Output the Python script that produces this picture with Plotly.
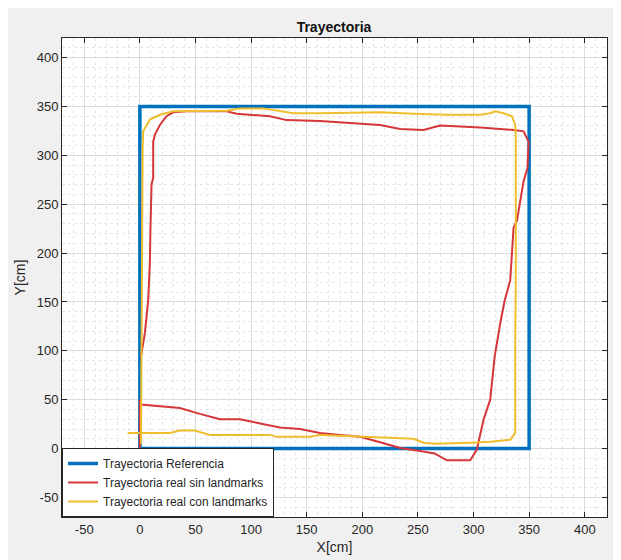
import plotly.graph_objects as go

# Reference trajectory (square)
ref_x = [0, 0, 350, 350, 0]
ref_y = [0, 350, 350, 0, 0]

# Real trajectory without landmarks
red_x = [0, 0, 1, 18, 36, 54, 72, 90, 108, 126, 144, 162, 180, 198, 216, 234, 252, 265, 276, 297,
         303, 309, 315, 319, 324, 328, 333, 336, 339, 345, 348.5, 349.5, 345, 336, 306, 270, 255,
         234, 216, 190, 162, 132, 117, 87, 78, 42, 30, 24, 18, 13.5, 12, 12, 10.5, 9.5, 9, 7.5, 4.5, 1]
red_y = [0, 50, 45, 43.5, 41.5, 35.5, 30, 30, 26, 21.5, 20, 16, 14, 12, 6.5, 0.5, -2.5, -5, -12, -12,
         -1, 29.5, 50, 94, 128, 151.5, 172, 226, 233, 273.5, 287, 314, 324.5, 326, 328.5, 330.5, 326,
         327, 331, 333, 335, 336, 340, 342.5, 345, 345, 344, 340, 331, 321, 314, 277, 270, 223, 190,
         151.5, 118, 94]

# Real trajectory with landmarks
yel_x = [-11, 27, 36, 49.5, 63, 117, 123, 153, 162, 216, 246, 255, 265, 297, 315, 333, 337.5, 337.5,
         338, 338, 337.5, 334.5, 327, 319.5, 315, 306, 276, 246, 216, 162, 138, 111, 90, 78, 30, 18,
         9, 3, 2.5, 2, 1.5, 1]
yel_y = [16, 16, 18.5, 18.5, 14, 14, 12, 12, 14, 11, 10, 6, 5, 6, 7, 9, 16, 104, 172, 318, 331, 340,
         343, 345, 343, 341.5, 341.5, 342.5, 344, 343, 343, 348, 348, 345.5, 345, 341.5, 336.5, 324.5,
         307.5, 200, 100, 5]

tick_vals = [-50, 0, 50, 100, 150, 200, 250, 300, 350, 400]
tick_text = [str(v) for v in tick_vals]

FONT = "Liberation Sans, Arial, sans-serif"
AX = "#262626"

fig = go.Figure()
fig.add_trace(go.Scatter(x=ref_x, y=ref_y, mode="lines", name="Trayectoria Referencia",
                         line=dict(color="#0072BD", width=3.5)))
fig.add_trace(go.Scatter(x=red_x, y=red_y, mode="lines", name="Trayectoria real sin landmarks",
                         line=dict(color="#D6363A", width=2)))
fig.add_trace(go.Scatter(x=yel_x, y=yel_y, mode="lines", name="Trayectoria real con landmarks",
                         line=dict(color="#EFBE2C", width=2)))

axis_common = dict(
    range=[-70, 420], tickvals=tick_vals, ticktext=tick_text,
    showgrid=True, gridcolor="#DCDCDC", gridwidth=1,
    minor=dict(dtick=10, showgrid=True, gridcolor="#E6E6E6", griddash="dot", ticks=""),
    showline=True, linecolor=AX, linewidth=1, mirror="ticks",
    ticks="inside", ticklen=5, tickcolor=AX,
    zeroline=False, automargin=False,
    tickfont=dict(family=FONT, size=13, color=AX),
    title_font=dict(family=FONT, size=14, color=AX),
)

fig.update_xaxes(**axis_common, title_text="X[cm]", title_standoff=6)
fig.update_yaxes(**axis_common, title_text="Y[cm]", title_standoff=7)

fig.update_layout(
    width=621, height=560,
    margin=dict(l=54, r=22, t=30, b=51, autoexpand=False),
    paper_bgcolor="#F0F0F0", plot_bgcolor="white",
    title=dict(text="<b>Trayectoria</b>", x=(54 + 272) / 621, xanchor="center",
               y=1 - 19 / 560, yanchor="middle", automargin=False,
               font=dict(family=FONT, size=14, color="#111111")),
    showlegend=True,
    legend=dict(x=0, y=0, xanchor="left", yanchor="bottom",
                bgcolor="white", bordercolor=AX, borderwidth=1,
                font=dict(family=FONT, size=12, color=AX),
                tracegroupgap=0, itemwidth=30),
)

fig.write_html("out.html")
